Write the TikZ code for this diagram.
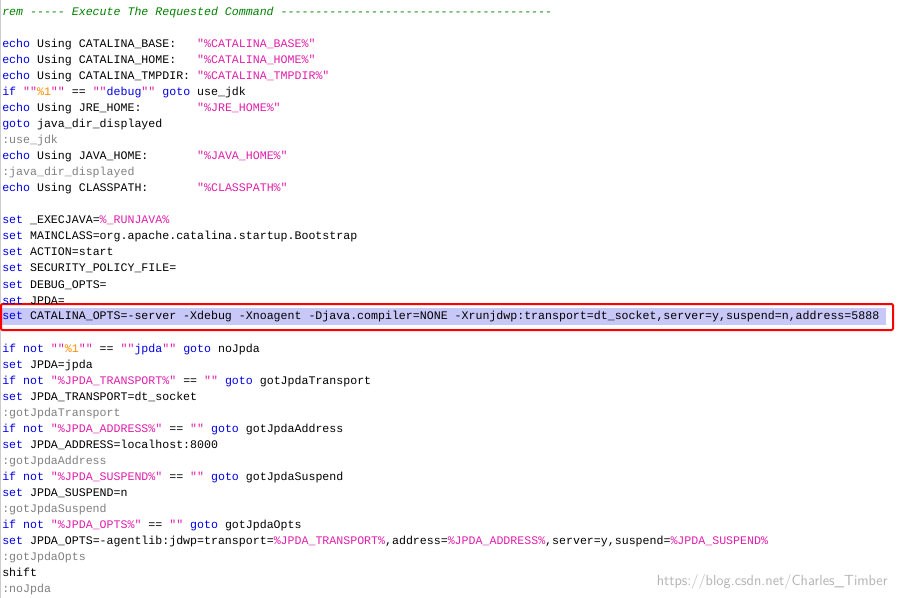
\documentclass[tikz,border=0pt]{standalone}
\usepackage{fontspec}
\setmonofont{Liberation Mono}
\usetikzlibrary{positioning}
\definecolor{kwblue}{RGB}{0,0,230}
\definecolor{strmag}{RGB}{225,30,170}
\definecolor{argorange}{RGB}{255,140,0}
\definecolor{lblgray}{RGB}{128,128,128}
\definecolor{remgreen}{RGB}{0,128,0}
\definecolor{selblue}{RGB}{200,200,248}
\newcommand{\kw}[1]{\textcolor{kwblue}{#1}}
\newcommand{\st}[1]{\textcolor{strmag}{#1}}
\newcommand{\lb}[1]{\textcolor{lblgray}{#1}}
\begin{document}
\begin{tikzpicture}[x=0.75pt,y=-0.75pt,
code/.style={anchor=base west,inner sep=0pt,font=\ttfamily\fontsize{8.7}{10}\selectfont}]
\useasboundingbox (0,0) rectangle (898,598);
\draw[lblgray!40] (0.5,0) -- (0.5,598);
% selected line
\fill[selblue] (1,308) rectangle (886,325);
\draw[red,line width=1.5pt,rounded corners=1pt] (1,304) rectangle (893,330);
\node[code] (l1) at (2,16) {\color{remgreen}\itshape rem ----- Execute The Requested Command ---------------------------------------};
\node[code] (l3) at (2,48) {\kw{echo} Using CATALINA\_BASE:\ \ \ \st{"\%CATALINA\_BASE\%"}};
\node[code] (l4) at (2,64) {\kw{echo} Using CATALINA\_HOME:\ \ \ \st{"\%CATALINA\_HOME\%"}};
\node[code] (l5) at (2,80) {\kw{echo} Using CATALINA\_TMPDIR: \st{"\%CATALINA\_TMPDIR\%"}};
\node[code] (l6) at (2,96) {\kw{if} \st{""}\textcolor{argorange}{\%1}\st{""} == \st{""}\kw{debug}\st{""} \kw{goto} use\_jdk};
\node[code] (l7) at (2,112) {\kw{echo} Using JRE\_HOME:\ \ \ \ \ \ \ \ \st{"\%JRE\_HOME\%"}};
\node[code] (l8) at (2,128) {\kw{goto} java\_dir\_displayed};
\node[code] (l9) at (2,144) {\lb{:use\_jdk}};
\node[code] (l10) at (2,160) {\kw{echo} Using JAVA\_HOME:\ \ \ \ \ \ \ \st{"\%JAVA\_HOME\%"}};
\node[code] (l11) at (2,176) {\lb{:java\_dir\_displayed}};
\node[code] (l12) at (2,192) {\kw{echo} Using CLASSPATH:\ \ \ \ \ \ \ \st{"\%CLASSPATH\%"}};
\node[code] (l14) at (2,224) {\kw{set} \_EXECJAVA=\st{\%\_RUNJAVA\%}};
\node[code] (l15) at (2,240) {\kw{set} MAINCLASS=org.apache.catalina.startup.Bootstrap};
\node[code] (l16) at (2,256) {\kw{set} ACTION=start};
\node[code] (l17) at (2,272) {\kw{set} SECURITY\_POLICY\_FILE=};
\node[code] (l18) at (2,288) {\kw{set} DEBUG\_OPTS=};
\node[code] (l19) at (2,304) {\kw{set} JPDA=};
\node[code] (l20) at (2,320) {\kw{set} CATALINA\_OPTS=-server -Xdebug -Xnoagent -Djava.compiler=NONE -Xrunjdwp:transport=dt\_socket,server=y,suspend=n,address=5888};
\node[code] (l22) at (2,352) {\kw{if not} \st{""}\textcolor{argorange}{\%1}\st{""} == \st{""}\kw{jpda}\st{""} \kw{goto} noJpda};
\node[code] (l23) at (2,368) {\kw{set} JPDA=jpda};
\node[code] (l24) at (2,384) {\kw{if not} \st{"\%JPDA\_TRANSPORT\%"} == \st{""} \kw{goto} gotJpdaTransport};
\node[code] (l25) at (2,400) {\kw{set} JPDA\_TRANSPORT=dt\_socket};
\node[code] (l26) at (2,416) {\lb{:gotJpdaTransport}};
\node[code] (l27) at (2,432) {\kw{if not} \st{"\%JPDA\_ADDRESS\%"} == \st{""} \kw{goto} gotJpdaAddress};
\node[code] (l28) at (2,448) {\kw{set} JPDA\_ADDRESS=localhost:8000};
\node[code] (l29) at (2,464) {\lb{:gotJpdaAddress}};
\node[code] (l30) at (2,480) {\kw{if not} \st{"\%JPDA\_SUSPEND\%"} == \st{""} \kw{goto} gotJpdaSuspend};
\node[code] (l31) at (2,496) {\kw{set} JPDA\_SUSPEND=n};
\node[code] (l32) at (2,512) {\lb{:gotJpdaSuspend}};
\node[code] (l33) at (2,528) {\kw{if not} \st{"\%JPDA\_OPTS\%"} == \st{""} \kw{goto} gotJpdaOpts};
\node[code] (l34) at (2,544) {\kw{set} JPDA\_OPTS=-agentlib:jdwp=transport=\st{\%JPDA\_TRANSPORT\%},address=\st{\%JPDA\_ADDRESS\%},server=y,suspend=\st{\%JPDA\_SUSPEND\%}};
\node[code] (l35) at (2,560) {\lb{:gotJpdaOpts}};
\node[code] (l36) at (2,576) {shift};
\node[code] (l37) at (2,592) {\lb{:noJpda}};
% watermark
\node[anchor=base east,inner sep=0pt,font=\sffamily\fontsize{11}{12}\selectfont,text=lblgray!60] (mark) at (888,585) {https://blog.csdn.net/Charles\_Timber};
\end{tikzpicture}
\end{document}
